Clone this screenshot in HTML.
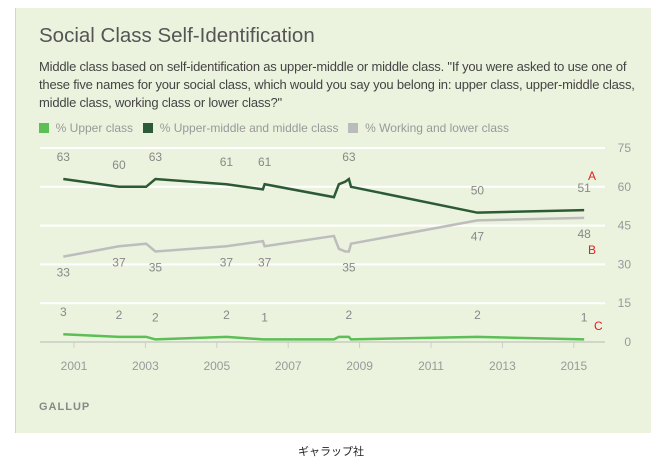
<!DOCTYPE html>
<html><head><meta charset="utf-8"><style>
body{margin:0;background:#fff;width:657px;height:463px;position:relative;font-family:"Liberation Sans","Noto Sans CJK JP",sans-serif;overflow:hidden}
#panel{position:absolute;left:15px;top:8px;width:635px;height:425px;background:#ebf3de;border-left:1px solid #cfd8c4}
.t{position:absolute;white-space:nowrap}
</style></head><body>
<div id="panel"></div>
<div class="t" style="left:39px;top:24px;font-size:20.5px;color:#555">Social Class Self-Identification</div>
<div class="t" style="left:39px;top:58px;font-size:13px;line-height:18px;color:#444;letter-spacing:-0.2px">Middle class based on self-identification as upper-middle or middle class. "If you were asked to use one of<br>these five names for your social class, which would you say you belong in: upper class, upper-middle class,<br>middle class, working class or lower class?"</div>
<div class="t" style="left:39px;top:121px;font-size:12px;color:#999">
<span><span style="display:inline-block;width:10px;height:10px;background:#5cbf55;vertical-align:-1px"></span>&nbsp; % Upper class</span>&nbsp;&nbsp;
<span><span style="display:inline-block;width:10px;height:10px;background:#2d5a36;vertical-align:-1px"></span>&nbsp; % Upper-middle and middle class</span>&nbsp;&nbsp;
<span><span style="display:inline-block;width:10px;height:10px;background:#bbbbbb;vertical-align:-1px"></span>&nbsp; % Working and lower class</span></div>
<svg id="chart" width="657" height="463" style="position:absolute;left:0;top:0;font-family:'Liberation Sans',sans-serif"></svg>
<div class="t" style="left:39px;top:401px;font-size:11px;font-weight:bold;letter-spacing:1px;color:#888">GALLUP</div>
<div class="t" style="left:298px;top:443px;font-size:11px;color:#222">ギャラップ社</div>
<script>
const dates=[2000.7,2002.26,2003.02,2003.28,2005.27,2006.29,2006.34,2008.28,2008.42,2008.6,2008.7,2008.76,2012.3,2015.29];
const middle=[63,60,60,63,61,59,61,56,61,62,63,60,50,51];
const working=[33,37,38,35,37,39,37,41,36,35,35,38,47,48];
const upper=[3,2,2,1,2,1,1,1,2,2,2,1,2,1];
const middleLabels=[63,60,null,63,61,null,61,null,null,null,63,null,50,51];
const workingLabels=[33,37,null,35,37,null,37,null,null,null,35,null,47,48];
const upperLabels=[3,2,null,2,2,null,1,null,null,null,2,null,2,1];
const yTicks=[0,15,30,45,60,75];
const xTicks=[2001,2003,2005,2007,2009,2011,2013,2015];
const svg=document.getElementById('chart');const NS='http://www.w3.org/2000/svg';
const X=d=>74+(d-2001)*35.7, Y=v=>342-v*(194/75);
function mk(t,a,p){const e=document.createElementNS(NS,t);for(const k in a)e.setAttribute(k,a[k]);(p||svg).appendChild(e);return e;}
yTicks.forEach(v=>{const l=mk('line',{x1:40,x2:605,y1:Y(v),y2:Y(v),stroke:v?'#fff':'#d0d6c8','stroke-width':2});


const t=mk('text',{x:631,y:Y(v)+4,'text-anchor':'end','font-size':12,fill:'#999'});t.textContent=v;

});
xTicks.forEach(y=>{const l=mk('line',{x1:X(y),x2:X(y),y1:342,y2:348,stroke:'#ccc'});


const t=mk('text',{x:X(y),y:370,'text-anchor':'middle','font-size':12,fill:'#999'});t.textContent=y;

});
function series(vals,labs,color,name,above){
const p=mk('polyline',{points:dates.map((d,i)=>X(d)+','+Y(vals[i])).join(' '),fill:'none',stroke:color,'stroke-width':2.5});


labs.forEach((v,i)=>{if(v==null)return;const off=above?-18:20;const t=mk('text',{x:X(dates[i]),y:Y(vals[i])+off,'text-anchor':'middle','font-size':12,fill:'#888'});t.textContent=v;

});}
series(working,workingLabels,'#bdbdbd','working',false);
series(middle,middleLabels,'#2d5a36','middle',true);
series(upper,upperLabels,'#5cbf55','upper',true);
[['A',588,180],['B',588,254],['C',594,330]].forEach(a=>{const t=mk('text',{x:a[1],y:a[2],'font-size':12,fill:'#e02020'});t.textContent=a[0];

});
</script>
</body></html>
